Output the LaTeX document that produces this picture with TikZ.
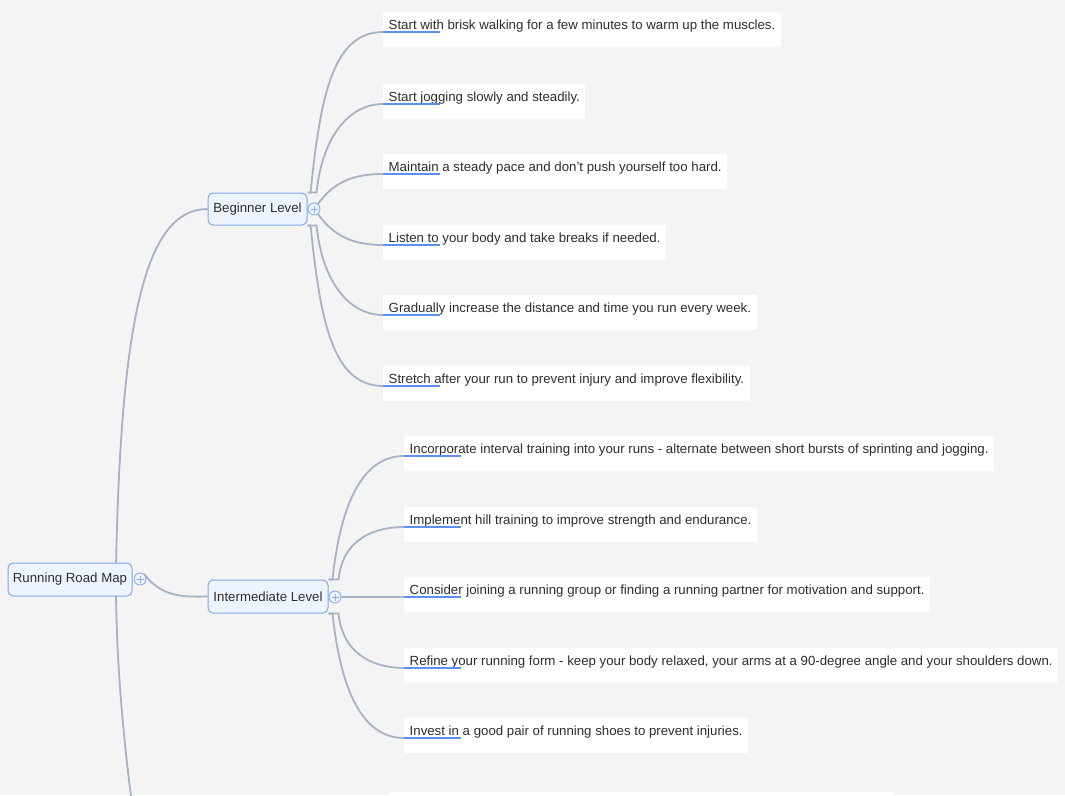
\documentclass[tikz,border=0pt]{standalone}
\usepackage{fontspec}
\setmainfont{Liberation Sans}
\definecolor{bgcol}{HTML}{F4F4F4}
\definecolor{conncol}{HTML}{A7B2C4}
\definecolor{nodeborder}{HTML}{7FA6EE}
\definecolor{nodefill}{HTML}{EEF4FE}
\definecolor{plusblue}{HTML}{8DAEEE}
\definecolor{ulblue}{HTML}{5C8FEF}
\definecolor{textc}{HTML}{2E2E2E}
\pgfdeclarelayer{bg}
\pgfdeclarelayer{edges}
\pgfsetlayers{bg,edges,main}
\tikzset{
  mainnode/.style={draw=nodeborder, fill=nodefill, rounded corners=5pt, line width=1pt,
    text=textc, inner sep=0pt},
  plusnode/.style={circle, draw=plusblue, fill=nodefill, minimum size=12pt, inner sep=0pt,
    line width=0.9pt,
    path picture={
      \draw[plusblue, line width=0.9pt]
        ([xshift=-3.5pt]path picture bounding box.center) -- ([xshift=3.5pt]path picture bounding box.center)
        ([yshift=-3.5pt]path picture bounding box.center) -- ([yshift=3.5pt]path picture bounding box.center);}},
  leaf/.style={anchor=north west, fill=white, inner xsep=5.5pt, inner ysep=0pt,
    text height=17pt, text depth=18pt, text=textc},
  conn/.style={draw=conncol, line width=1.8pt},
  uline/.style={draw=ulblue, line width=2pt},
  % long branches: steep start, flat arrival
  upbranch/.style={out=84, in=180, out looseness=1.35, in looseness=0.75},
  downbranch/.style={out=-84, in=180, out looseness=1.35, in looseness=0.75},
}
\begin{document}
\begin{tikzpicture}[x=1pt, y=-1pt, font=\fontsize{13.25}{15}\selectfont]
\useasboundingbox (0,0) rectangle (1065,795);
\begin{pgfonlayer}{bg}
  \fill[bgcol] (0,0) rectangle (1065,795);
\end{pgfonlayer}

% central topic and its branches
\node[mainnode, minimum width=124pt, minimum height=33pt] (root) at (70,579.5) {Running Road Map};
\node[plusnode] (rplus) at (140,579) {};
\node[mainnode, minimum width=99pt, minimum height=32pt] (beg) at (257.5,209) {Beginner Level};
\node[plusnode] (bplus) at (314,209) {};
\node[mainnode, minimum width=120pt, minimum height=33pt] (inter) at (268,596.5) {Intermediate Level};
\node[plusnode] (iplus) at (335,597) {};
\coordinate (next) at (141,870);

% beginner tips
\node[leaf] (b1) at (383,12) {Start with brisk walking for a few minutes to warm up the muscles.};
\node[leaf] (b2) at (383,84) {Start jogging slowly and steadily.};
\node[leaf] (b3) at (383,154) {Maintain a steady pace and don't push yourself too hard.};
\node[leaf] (b4) at (383,225) {Listen to your body and take breaks if needed.};
\node[leaf] (b5) at (383,295) {Gradually increase the distance and time you run every week.};
\node[leaf] (b6) at (383,366) {Stretch after your run to prevent injury and improve flexibility.};

% intermediate tips
\node[leaf] (i1) at (404,436) {Incorporate interval training into your runs - alternate between short bursts of sprinting and jogging.};
\node[leaf] (i2) at (404,507) {Implement hill training to improve strength and endurance.};
\node[leaf] (i3) at (404,577) {Consider joining a running group or finding a running partner for motivation and support.};
\node[leaf] (i4) at (404,648) {Refine your running form - keep your body relaxed, your arms at a 90-degree angle and your shoulders down.};
\node[leaf] (i5) at (404,718) {Invest in a good pair of running shoes to prevent injuries.};

% top of the next tip box below
\fill[white] (389,792) rectangle (893,830);

% underlines of the tips
\foreach \n in {b1,b2,b3,b4,b5,b6,i1,i2,i3,i4,i5}
  \draw[uline] ([yshift=-20pt]\n.north west) -- ++(57,0);

\begin{pgfonlayer}{edges}
  % central topic
  \draw[conn] ([xshift=46pt,yshift=-4pt]root.north) .. controls (121,320) and (145,209) .. (beg.west);
  \draw[conn] ([xshift=4pt,yshift=5pt]rplus.center) .. controls (162,597) and (182,597) .. (inter.west);
  \draw[conn] ([xshift=46pt,yshift=4pt]root.south) .. controls (117,690) and (128,780) .. (next);
  % beginner level
  \draw[conn] (beg.north east) -- ++(3,0) to[upbranch] ([yshift=-20pt]b1.north west);
  \draw[conn] (beg.north east) -- ++(9,0) to[upbranch] ([yshift=-20pt]b2.north west);
  \draw[conn] ([xshift=4pt,yshift=5pt]bplus.center) to[out=55,in=180] ([yshift=-20pt]b3.north west);
  \draw[conn] ([xshift=4pt,yshift=-5pt]bplus.center) to[out=-55,in=180] ([yshift=-20pt]b4.north west);
  \draw[conn] (beg.south east) -- ++(9,0) to[downbranch] ([yshift=-20pt]b5.north west);
  \draw[conn] (beg.south east) -- ++(3,0) to[downbranch] ([yshift=-20pt]b6.north west);
  % intermediate level
  \draw[conn] (inter.north east) -- ++(4,0) to[upbranch] ([yshift=-20pt]i1.north west);
  \draw[conn] (inter.north east) -- ++(10,0) to[upbranch] ([yshift=-20pt]i2.north west);
  \draw[conn] (iplus.center) -- ([yshift=-20pt]i3.north west);
  \draw[conn] (inter.south east) -- ++(10,0) to[downbranch] ([yshift=-20pt]i4.north west);
  \draw[conn] (inter.south east) -- ++(4,0) to[downbranch] ([yshift=-20pt]i5.north west);
\end{pgfonlayer}
\end{tikzpicture}
\end{document}
